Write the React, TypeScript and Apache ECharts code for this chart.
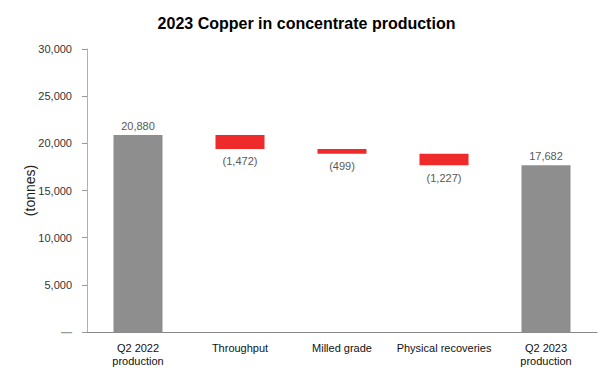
import React, { useEffect, useRef } from "react";
import * as echarts from "echarts";

const categories = ["Q2 2022\nproduction", "Throughput", "Milled grade", "Physical recoveries", "Q2 2023\nproduction"];
const totals: (number | null)[] = [20880, null, null, null, 17682];
const changes: (number | null)[] = [null, -1472, -499, -1227, null];
const yTicks = { min: 0, max: 30000, interval: 5000 };

const fmt = (v: number) => Math.abs(v).toLocaleString("en-US");

export default function App() {
  const ref = useRef<HTMLDivElement>(null);
  useEffect(() => {
    if (!ref.current) return;
    document.body.style.margin = "0";
    const chart = echarts.init(ref.current, undefined, { renderer: "svg" });
    let running = 0;
    const rows: any[] = [];
    const labels: string[] = [];
    const kinds: string[] = [];
    categories.forEach((_, i) => {
      if (totals[i] != null) {
        running = totals[i] as number;
        rows.push([i, 0, running]);
        labels.push(fmt(running));
        kinds.push("total");
      } else {
        const c = changes[i] as number;
        const hi = Math.max(running, running + c);
        const lo = Math.min(running, running + c);
        rows.push([i, lo, hi]);
        labels.push(c < 0 ? `(${fmt(c)})` : fmt(c));
        kinds.push(c < 0 ? "down" : "up");
        running += c;
      }
    });
    const font = "Liberation Sans, Arial, sans-serif";
    chart.setOption({
      animation: false,
      title: {
        text: "2023 Copper in concentrate production",
        left: "center",
        top: 10,
        textStyle: { fontFamily: font, fontSize: 16, fontWeight: "bold", color: "#000" },
      },
      grid: { left: 87, right: 16, top: 49, bottom: 48 },
      xAxis: {
        type: "category",
        data: categories,
        axisLine: { lineStyle: { color: "#8a8a8a", width: 1 } },
        axisTick: { show: false },
        axisLabel: { color: "#111", fontFamily: font, fontSize: 11, lineHeight: 13, margin: 9, interval: 0 },
      },
      yAxis: {
        type: "value",
        min: yTicks.min,
        max: yTicks.max,
        interval: yTicks.interval,
        name: "(tonnes)",
        nameLocation: "middle",
        nameGap: 50,
        nameMoveOverlap: false,
        nameTextStyle: { fontFamily: font, fontSize: 14, color: "#222" },
        axisLine: { show: true, lineStyle: { color: "#b0b0b0" } },
        axisTick: { show: true, length: 5, lineStyle: { color: "#999" } },
        splitLine: { show: false },
        axisLabel: {
          color: "#333",
          fontFamily: font,
          fontSize: 11,
          margin: 15,
          formatter: (v: number) => (v === 0 ? "{z|—}" : v.toLocaleString("en-US")),
          rich: { z: { color: "#999", fontSize: 11, fontWeight: "bold" } },
        },
      },
      series: [
        {
          type: "custom",
          encode: { x: 0, y: [1, 2] },
          data: rows,
          renderItem: (params: any, api: any) => {
            const i = api.value(0);
            const lo = api.value(1);
            const hi = api.value(2);
            const pTop = api.coord([i, hi]);
            const pBot = api.coord([i, lo]);
            const kind = kinds[params.dataIndex];
            const w = 49;
            const cx = pTop[0];
            const fill = kind === "total" ? "#8e8e8e" : "#ee2a2a";
            const below = kind === "down";
            return {
              type: "group",
              children: [
                {
                  type: "rect",
                  shape: { x: cx - w / 2, y: pTop[1], width: w, height: Math.max(1, pBot[1] - pTop[1]) },
                  style: { fill },
                },
                {
                  type: "text",
                  style: {
                    text: labels[params.dataIndex],
                    x: cx,
                    y: below ? pBot[1] + 7 : pTop[1] - 4,
                    align: "center",
                    verticalAlign: below ? "top" : "bottom",
                    fill: "#595959",
                    fontSize: 11,
                    fontFamily: font,
                  },
                },
              ],
            };
          },
        },
      ],
    });
    return () => chart.dispose();
  }, []);
  return <div ref={ref} style={{ width: 613, height: 380 }} />;
}
